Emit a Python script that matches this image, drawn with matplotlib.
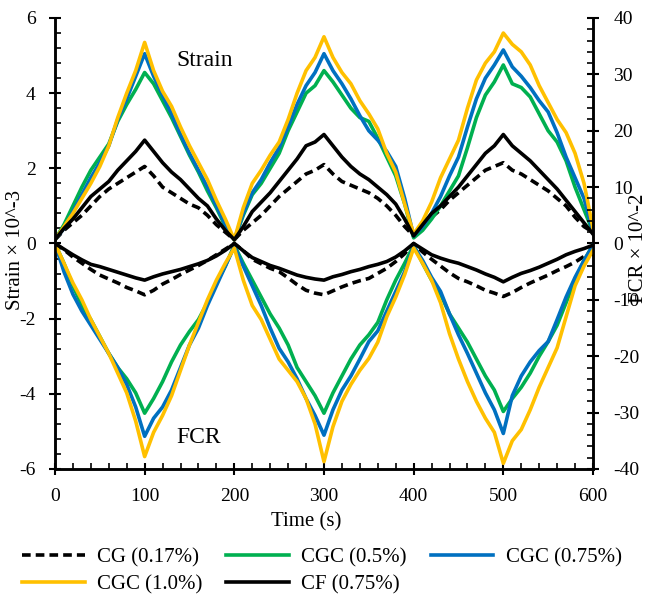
import matplotlib
matplotlib.use('Agg')
import matplotlib.pyplot as plt
import numpy as np
from matplotlib.ticker import MultipleLocator

plt.rcParams['font.family'] = ['Liberation Serif', 'DejaVu Serif']
plt.rcParams['axes.unicode_minus'] = False

# time axis (s), one reading every 10 s
time = np.arange(0, 601, 10)

# strain (x10^-3), left axis
strain_cg = [0.1, 0.35, 0.55, 0.75, 1.0, 1.25, 1.45, 1.6, 1.75, 1.9, 2.05,
             1.8, 1.5, 1.35, 1.2, 1.05, 0.95, 0.75, 0.5, 0.3, 0.1,
             0.35, 0.55, 0.75, 1.0, 1.25, 1.45, 1.65, 1.85, 1.95, 2.1,
             1.85, 1.65, 1.55, 1.45, 1.35, 1.2, 1.0, 0.75, 0.45, 0.2,
             0.45, 0.7, 0.9, 1.15, 1.35, 1.55, 1.75, 1.95, 2.05, 2.15,
             1.95, 1.85, 1.7, 1.55, 1.4, 1.2, 1.0, 0.7, 0.45, 0.3]
strain_cgc05 = [0.1, 0.5, 1.0, 1.5, 1.95, 2.3, 2.65, 3.25, 3.7, 4.1, 4.55,
                4.25, 3.8, 3.35, 2.85, 2.35, 1.9, 1.4, 0.95, 0.45, 0.1,
                0.75, 1.3, 1.6, 2.0, 2.4, 3.0, 3.5, 4.0, 4.2, 4.6,
                4.3, 3.95, 3.6, 3.35, 3.25, 2.8, 2.3, 1.8, 1.05, 0.15,
                0.35, 0.65, 1.0, 1.4, 1.8, 2.55, 3.35, 3.95, 4.3, 4.75,
                4.25, 4.15, 3.9, 3.45, 3.0, 2.7, 2.2, 1.5, 0.9, 0.3]
strain_cgc075 = [0.1, 0.4, 0.85, 1.3, 1.75, 2.15, 2.6, 3.3, 3.85, 4.45, 5.05,
                 4.45, 3.95, 3.45, 2.9, 2.4, 1.95, 1.5, 1.0, 0.5, 0.1,
                 0.8, 1.35, 1.7, 2.15, 2.55, 3.1, 3.7, 4.2, 4.55, 5.05,
                 4.6, 4.25, 3.85, 3.4, 3.0, 2.75, 2.45, 2.05, 1.2, 0.2,
                 0.45, 0.8, 1.25, 1.8, 2.3, 3.1, 3.85, 4.4, 4.75, 5.15,
                 4.7, 4.45, 4.15, 3.8, 3.5, 2.95, 2.3, 1.75, 1.2, 0.3]
strain_cgc10 = [0.1, 0.45, 0.8, 1.2, 1.6, 2.05, 2.6, 3.35, 4.0, 4.6, 5.35,
                4.6, 4.05, 3.65, 3.1, 2.6, 2.15, 1.7, 1.15, 0.65, 0.1,
                0.95, 1.6, 1.95, 2.35, 2.7, 3.3, 4.0, 4.6, 4.95, 5.5,
                4.95, 4.55, 4.25, 3.8, 3.45, 3.05, 2.4, 1.9, 1.05, 0.25,
                0.6, 1.1, 1.75, 2.25, 2.75, 3.6, 4.35, 4.8, 5.1, 5.6,
                5.3, 5.1, 4.75, 4.2, 3.75, 3.3, 2.95, 2.4, 1.6, 0.4]
strain_cf = [0.1, 0.4, 0.65, 0.95, 1.25, 1.45, 1.65, 1.95, 2.2, 2.45, 2.75,
             2.45, 2.15, 1.9, 1.7, 1.45, 1.2, 1.0, 0.65, 0.35, 0.1,
             0.45, 0.85, 1.1, 1.35, 1.65, 1.95, 2.25, 2.6, 2.7, 2.9,
             2.6, 2.3, 2.05, 1.85, 1.7, 1.5, 1.3, 1.05, 0.65, 0.2,
             0.5, 0.8, 1.0, 1.25, 1.5, 1.8, 2.1, 2.4, 2.6, 2.9,
             2.6, 2.4, 2.2, 1.95, 1.7, 1.45, 1.15, 0.85, 0.55, 0.25]

# FCR (x10^-2), right axis
fcr_cg = [0, -1.1, -2.4, -3.5, -4.6, -5.6, -6.3, -7.0, -7.8, -8.4, -9.1,
          -8.3, -7.2, -6.4, -5.5, -4.7, -3.9, -3.0, -2.0, -1.0, 0,
          -1.3, -2.8, -3.6, -4.4, -5.0, -6.1, -7.3, -8.3, -8.8, -9.1,
          -8.4, -7.7, -7.1, -6.6, -6.2, -5.3, -4.4, -3.2, -1.8, 0,
          -1.5, -2.8, -4.0, -5.2, -6.2, -6.8, -7.5, -8.3, -8.8, -9.4,
          -8.7, -7.8, -7.0, -6.3, -5.6, -4.8, -4.1, -3.3, -2.3, -1.2]
fcr_cgc05 = [0, -3.5, -7.5, -11, -13.5, -16.5, -19.5, -22, -24, -26.5, -30.1,
             -27.5, -24.5, -21, -18, -15.6, -13.5, -10.5, -7, -4, -0.3,
             -3.5, -6.5, -9.5, -12.5, -15, -18, -22, -24.5, -27, -30.1,
             -26.5, -23.5, -20.5, -18, -16.2, -14, -10, -6.5, -3.5, -0.3,
             -3.5, -6.5, -9, -12.5, -15, -17.5, -20.5, -23.5, -26, -29.8,
             -27.5, -25.5, -23, -20, -17.4, -14.5, -10.5, -6.5, -3, -0.3]
fcr_cgc075 = [0, -5, -9, -12, -14.5, -17, -19.5, -22, -25, -29, -34.2,
              -31, -29, -26, -22, -18, -15, -11, -7.5, -4, -0.5,
              -4, -7.5, -11, -15, -18.6, -21, -24, -27.5, -30.5, -34,
              -29.5, -26, -23.5, -20.5, -17.4, -15.5, -12, -8.5, -5, -0.5,
              -3, -6, -8.5, -12.5, -16.2, -19.5, -23, -26.5, -29.5, -33.7,
              -27, -23.5, -21, -19, -17.4, -13.5, -9.5, -6, -3, -0.3]
fcr_cgc10 = [0, -3.5, -7, -10, -13.5, -16.5, -19.5, -23, -26.5, -31.5, -37.8,
             -33.5, -30.5, -27, -22.5, -18, -14, -10, -6.5, -3.5, -0.8,
             -6.5, -11, -13.5, -17, -20.5, -22.5, -24.5, -27.5, -32, -38.7,
             -32.5, -28, -25, -22.5, -20.4, -17.5, -13, -9.5, -5.5, -0.8,
             -3.5, -6.5, -10.5, -16, -20.5, -24.5, -28, -31, -33.5, -39,
             -35, -33, -29.5, -25.5, -22, -18.5, -13, -7.5, -4, -1.2]
fcr_cf = [0, -1.0, -2.0, -2.9, -3.7, -4.1, -4.6, -5.1, -5.6, -6.1, -6.5,
          -5.9, -5.4, -5.0, -4.6, -4.1, -3.6, -3.0, -2.2, -1.2, 0,
          -1.3, -2.5, -3.2, -3.9, -4.4, -5.0, -5.6, -6.0, -6.3, -6.5,
          -5.9, -5.5, -5.0, -4.6, -4.1, -3.7, -3.2, -2.4, -1.3, 0,
          -1.0, -2.0, -2.6, -3.1, -3.5, -4.1, -4.7, -5.4, -6.0, -6.8,
          -6.0, -5.3, -4.8, -4.2, -3.5, -2.8, -2.0, -1.4, -0.9, -0.3]

labels = ['CG (0.17%)', 'CGC (0.5%)', 'CGC (0.75%)', 'CGC (1.0%)', 'CF (0.75%)']
colors = ['black', '#00B050', '#0070C0', '#FFC000', 'black']
styles = [(0, (2.4, 1.4)), '-', '-', '-', '-']

strain = [strain_cg, strain_cgc05, strain_cgc075, strain_cgc10, strain_cf]
fcr = [fcr_cg, fcr_cgc05, fcr_cgc075, fcr_cgc10, fcr_cf]

fig = plt.figure(figsize=(6.53, 5.96), dpi=100)
ax = fig.add_axes([0.0842, 0.2131, 0.8239, 0.7567])
ax2 = ax.twinx()

lw = 2.6
handles = []
for s, c, ls, lab in zip(strain, colors, styles, labels):
    h, = ax.plot(time, s, color=c, lw=lw, ls=ls, label=lab)
    handles.append(h)
for f, c, ls in zip(fcr, colors, styles):
    ax2.plot(time, f, color=c, lw=lw, ls=ls)

ax.set_xlim(0, 600)
ax.set_ylim(-6, 6)
ax2.set_ylim(-40, 40)

ax.xaxis.set_major_locator(MultipleLocator(100))
ax.xaxis.set_minor_locator(MultipleLocator(20))
ax.yaxis.set_major_locator(MultipleLocator(2))
ax.yaxis.set_minor_locator(MultipleLocator(0.4))
ax2.yaxis.set_major_locator(MultipleLocator(10))
ax2.yaxis.set_minor_locator(MultipleLocator(2))

for a in (ax, ax2):
    a.spines['top'].set_visible(False)
    for sp in a.spines.values():
        sp.set_linewidth(1.8)
    a.tick_params(which='major', direction='inout', length=8, width=1.5, labelsize=14)
    a.tick_params(which='minor', direction='in', length=4, width=1.2)
ax.tick_params(axis='y', which='major', pad=10)
ax.tick_params(axis='x', which='major', pad=9.5)
ax2.tick_params(axis='y', which='major', pad=10.5)

ax.set_xlabel('Time (s)', fontsize=15, labelpad=7)
ax.xaxis.set_label_coords(0.467, -0.095)
ax.set_ylabel('Strain × 10^-3', fontsize=15)
ax.yaxis.set_label_coords(-0.056, 0.486)
ax2.set_ylabel('FCR × 10^-2', fontsize=15)
ax2.yaxis.set_label_coords(1.067, 0.49)

ax.text(167, 4.88, 'Strain', fontsize=17, ha='center', va='center')
ax.text(160, -5.17, 'FCR', fontsize=17, ha='center', va='center')

order = [0, 3, 1, 4, 2]
fig.legend([handles[i] for i in order], [labels[i] for i in order],
           loc='upper left', bbox_to_anchor=(0.021, 0.095), ncol=3,
           frameon=False, fontsize=15, handlelength=3.0, handletextpad=0.6,
           columnspacing=1.15, labelspacing=0.35, borderaxespad=0)

fig.savefig('out.png', dpi=100)
